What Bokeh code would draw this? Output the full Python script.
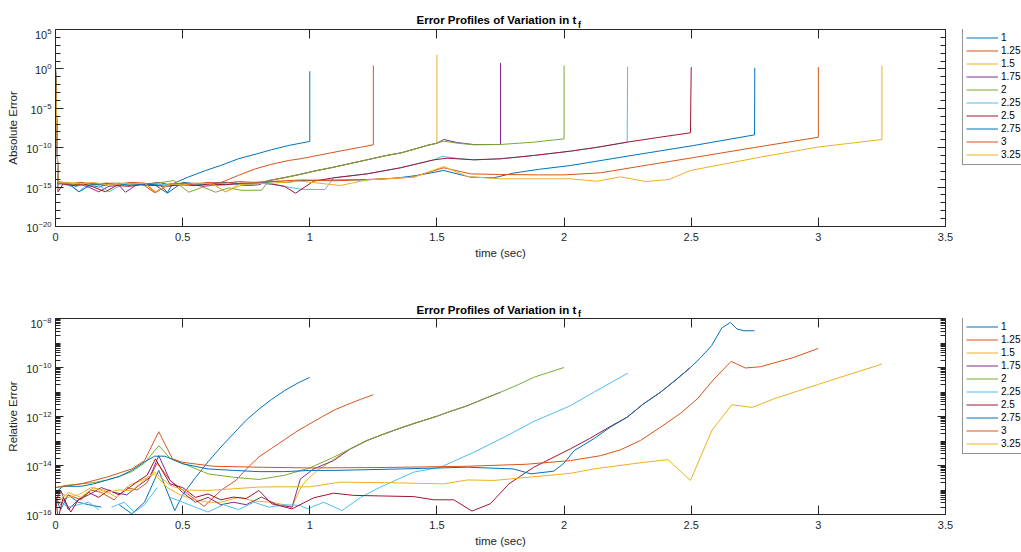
import numpy as np
from bokeh.plotting import figure
from bokeh.layouts import column, row
from bokeh.core.properties import value
from bokeh.models import (FixedTicker, LogAxis, LinearAxis, Range1d, Legend, LegendItem,
                          NumeralTickFormatter, CustomJSTickFormatter, LogTickFormatter)
from bokeh.embed import file_html
from bokeh.resources import INLINE

nan = float("nan")

# ---------------------------------------------------------------- labels / style
tf_labels = ["1", "1.25", "1.5", "1.75", "2", "2.25", "2.5", "2.75", "3", "3.25"]
line_colors = ["#0072BD", "#D95319", "#EDB120", "#7E2F8E", "#77AC30",
               "#4DBEEE", "#A2142F", "#0072BD", "#D95319", "#EDB120"]
title_text = "Error Profiles of Variation in t"
title_sub = "f"
x_label = "time (sec)"
abs_label = "Absolute Error"
rel_label = "Relative Error"

x_ticks = [0, 0.5, 1, 1.5, 2, 2.5, 3, 3.5]
abs_major = [1e-20, 1e-15, 1e-10, 1e-5, 1e0, 1e5]
abs_minor = [10.0 ** k for k in range(-20, 6) if k % 5 != 0]
rel_major = [1e-16, 1e-14, 1e-12, 1e-10, 1e-8]
rel_minor = [m * 10.0 ** k for k in range(-16, -8) for m in range(2, 10)] + \
            [1e-15, 1e-13, 1e-11, 1e-9]

# ---------------------------------------------------------------- absolute error (log10)
abs_t_1 = [0, 0.01, 0.04, 0.08, 0.12, 0.17, 0.22, 0.27, 0.32, 0.37, 0.41, 0.44,
           0.46, 0.52, 0.59, 0.65, 0.72, 0.79, 0.85, 0.92, 1.0, 1.0]
abs_e_1 = [0, -14.5, -14.4, -14.9, -14.6, -15.0, -14.5, -14.7, -14.6, -14.8, -14.6, -15.7,
           -14.6, -13.75, -12.9, -12.25, -11.4, -10.8, -10.25, -9.7, -9.2, -0.3]

abs_t_2 = [0, 0.01, 0.05, 0.09, 0.14, 0.19, 0.24, 0.29, 0.34, 0.39, 0.44, 0.49,
           0.55, 0.6, 0.655, 0.72, 0.786, 0.85, 0.917, 0.963, 1.02, 1.08, 1.14, 1.2,
           1.25, 1.25]
abs_e_2 = [0, -14.3, -14.5, -14.7, -14.5, -14.8, -14.6, -14.5, -14.6, -15.7, -14.7, -14.6,
           -14.5, -14.7, -14.37, -13.5, -12.68, -12.1, -11.62, -11.41, -11.05, -10.67, -10.3, -9.94,
           -9.63, 0.43]

# common growth shared by t_f = 1.5, 1.75, 2
abs_rise_t = [0.84, 0.9, 0.96, 1.02, 1.09, 1.16, 1.23, 1.3, 1.36, 1.42, 1.46, 1.5]
abs_rise_e = [-14.16, -13.8, -13.4, -12.95, -12.5, -12.0, -11.5, -11.0, -10.65, -10.1, -9.72, -9.43]

abs_t_3 = [0, 0.01, 0.05, 0.1, 0.15, 0.2, 0.26, 0.31, 0.36, 0.393, 0.45, 0.5,
           0.56, 0.62, 0.668, 0.72, 0.78] + abs_rise_t + [1.5]
abs_e_3 = [0, -14.6, -14.4, -14.6, -14.8, -14.5, -14.7, -14.5, -14.6, -15.64, -14.5, -14.6,
           -14.8, -14.6, -15.6, -14.9, -14.5] + abs_rise_e + [1.8]

abs_t_4 = [0, 0.01, 0.05, 0.09, 0.13, 0.17, 0.21, 0.25, 0.275, 0.32, 0.36, 0.406,
           0.46, 0.52, 0.58, 0.64, 0.7, 0.76, 0.8] + abs_rise_t + \
          [1.527, 1.58, 1.645, 1.75, 1.75]
abs_e_4 = [0, -14.5, -14.7, -14.6, -15.0, -15.6, -14.9, -14.8, -15.65, -14.7, -14.6, -14.4,
           -14.8, -14.6, -14.9, -14.7, -14.6, -14.8, -14.7] + abs_rise_e + \
          [-8.96, -9.35, -9.6, -9.59, 0.77]

abs_t_5 = [0, 0.01, 0.05, 0.1, 0.15, 0.2, 0.25, 0.3, 0.35, 0.4, 0.465, 0.524,
           0.58, 0.63, 0.68, 0.73, 0.81] + abs_rise_t + \
          [1.527, 1.58, 1.645, 1.75, 1.88, 2.0, 2.0]
abs_e_5 = [0, -14.4, -14.6, -14.8, -14.6, -14.7, -14.5, -14.6, -14.7, -14.5, -14.16, -15.65,
           -15.0, -15.65, -15.1, -15.4, -15.4] + abs_rise_e + \
          [-9.17, -9.43, -9.63, -9.59, -9.3, -8.88, 0.43]

# common growth shared by t_f = 2.25, 2.5
abs_b1_t = [1.094, 1.225, 1.357, 1.488]
abs_b1_e = [-13.82, -13.32, -12.55, -11.54]
abs_b2_t = [1.645, 1.75, 1.88, 2.025, 2.13, 2.248]
abs_b2_e = [-11.54, -11.41, -10.99, -10.44, -9.95, -9.3]

abs_t_6 = [0, 0.01, 0.04, 0.07, 0.092, 0.12, 0.16, 0.21, 0.26, 0.31, 0.36, 0.41,
           0.46, 0.52, 0.58, 0.64, 0.7, 0.76, 0.82, 0.88, 0.97, 1.06] + abs_b1_t + \
          [1.52, 1.58] + abs_b2_t + [2.25]
abs_e_6 = [0, -14.5, -14.7, -15.0, -15.6, -14.8, -14.6, -15.6, -14.7, -14.6, -14.8, -14.7,
           -14.6, -14.5, -14.7, -14.8, -14.6, -14.7, -14.5, -14.8, -15.3, -15.3] + abs_b1_e + \
          [-11.1, -11.35] + abs_b2_e + [0.3]

abs_t_7 = [0, 0.01, 0.03, 0.07, 0.11, 0.15, 0.196, 0.24, 0.29, 0.34, 0.39, 0.44,
           0.49, 0.55, 0.61, 0.67, 0.73, 0.79, 0.85, 0.9, 0.944, 1.015] + abs_b1_t + \
          [1.54] + abs_b2_t + [2.37, 2.497, 2.5]
abs_e_7 = [0, -15.6, -14.6, -14.8, -14.6, -15.0, -15.6, -14.8, -14.9, -14.7, -14.8, -14.9,
           -14.7, -14.8, -14.6, -14.7, -14.5, -14.5, -14.6, -14.9, -15.77, -14.25] + abs_b1_e + \
          [-11.33] + abs_b2_e + [-8.7, -8.11, 0.22]

abs_t_8 = [0, 0.01, 0.05, 0.092, 0.14, 0.19, 0.24, 0.29, 0.34, 0.39, 0.44, 0.5,
           0.56, 0.62, 0.68, 0.74, 0.8, 0.86, 0.91, 0.963, 1.1, 1.225, 1.33, 1.42,
           1.527, 1.632, 1.724, 1.8, 1.9, 2.025, 2.248, 2.51, 2.749, 2.75]
abs_e_8 = [0, -14.6, -14.5, -15.6, -14.7, -14.6, -14.5, -14.8, -14.6, -14.7, -15.77, -14.4,
           -14.6, -14.5, -14.4, -14.6, -14.5, -14.3, -14.4, -14.16, -14.1, -14.08, -13.9, -13.53,
           -12.89, -13.74, -13.82, -13.23, -12.75, -12.26, -11.08, -9.72, -8.37, 0.14]

abs_t_9 = [0, 0.01, 0.05, 0.1, 0.15, 0.2, 0.25, 0.3, 0.35, 0.393, 0.45, 0.5,
           0.55, 0.6, 0.66, 0.72, 0.78, 0.84, 0.9, 0.963, 1.1, 1.25, 1.4, 1.527,
           1.632, 1.75, 1.9, 2.0, 2.143, 2.3, 2.51, 2.75, 3.0, 3.0]
abs_e_9 = [0, -14.5, -14.6, -14.4, -14.6, -14.5, -14.6, -14.4, -14.5, -15.7, -14.6, -14.5,
           -14.6, -14.4, -14.5, -14.3, -14.4, -14.3, -14.2, -14.1, -14.2, -14.0, -13.75, -12.55,
           -13.32, -13.4, -13.45, -13.45, -13.19, -12.35, -11.25, -9.97, -8.67, 0.22]

abs_t_10 = [0, 0.01, 0.05, 0.1, 0.15, 0.2, 0.25, 0.3, 0.35, 0.393, 0.45, 0.5,
            0.56, 0.62, 0.668, 0.72, 0.78, 0.84, 0.9, 0.963, 1.12, 1.225, 1.41, 1.527,
            1.62, 1.75, 2.025, 2.13, 2.222, 2.32, 2.412, 2.497, 2.772, 2.996, 3.25, 3.25]
abs_e_10 = [0, -14.4, -14.5, -14.6, -14.4, -14.7, -14.5, -14.6, -14.5, -15.6, -14.6, -14.7,
            -14.5, -14.6, -15.6, -14.7, -14.6, -14.5, -14.4, -14.25, -14.8, -14.08, -13.74, -12.39,
            -13.66, -13.95, -13.95, -14.25, -13.7, -14.29, -14.04, -12.89, -11.2, -9.93, -8.96, 0.39]

# ---------------------------------------------------------------- relative error (log10)
rel_t_1 = [0, 0.02, 0.05, 0.09, 0.13, 0.18, 0.2, 0.25, 0.3, 0.35, 0.406, 0.469,
           0.5, 0.55, 0.6, 0.65, 0.7, 0.75, 0.8, 0.85, 0.9, 0.95, 1.0]
rel_e_1 = [-15.3, -15.8, -15.2, -15.5, -15.6, -15.7, nan, -15.6, -15.97, -15.5, -14.2, -15.84,
           -15.2, -14.5, -13.85, -13.25, -12.7, -12.15, -11.7, -11.3, -10.95, -10.65, -10.4]

rel_t_2 = [0, 0.02, 0.05, 0.1, 0.14, 0.18, 0.23, 0.28, 0.32, 0.36, 0.4, 0.45,
           0.5, 0.584, 0.65, 0.71, 0.75, 0.8, 0.85, 0.9, 0.95, 1.0, 1.05, 1.1,
           1.15, 1.2, 1.25]
rel_e_2 = [-15.3, -15.6, -15.2, -15.4, -15.0, -15.1, -15.4, -14.9, -15.0, -14.7, -13.9, -14.6,
           -15.0, -15.67, -15.02, -14.6, -14.15, -13.65, -13.3, -12.95, -12.6, -12.3, -12.0, -11.72,
           -11.5, -11.3, -11.11]

# common growth shared by t_f = 1.5, 1.75, 2
rel_g_t = [1.0, 1.094, 1.16, 1.225, 1.29, 1.357, 1.42, 1.488, 1.5, 1.55, 1.62, 1.68,
           1.75, 1.82, 1.881, 1.94, 2.0]
rel_g_e = [-14.1, -13.66, -13.32, -12.98, -12.72, -12.47, -12.25, -12.03, -11.99, -11.8, -11.56, -11.3,
           -11.01, -10.7, -10.40, -10.2, -10.0]

rel_t_3 = [0, 0.02, 0.05, 0.09, 0.14, 0.19, 0.24, 0.29, 0.34, 0.39, 0.44, 0.49,
           0.55, 0.6, 0.65, 0.72, 0.78, 0.85, 0.9, 0.93, 0.96, 0.98, 1.03, 1.08, 1.13]
rel_e_3 = [-15.4, -15.1, -15.3, -15.2, -14.9, -15.0, -15.3, -14.8, -14.6, -14.35, -14.9, -15.2,
           -15.4, -15.5, -15.5, -15.3, -15.45, -15.5, -15.6, -15.7, -15.0, -14.68, -14.2, -13.85, -13.5]

rel_t_4 = [0, 0.02, 0.05, 0.09, 0.13, 0.18, 0.23, 0.28, 0.33, 0.37, 0.406, 0.45,
           0.5, 0.55, 0.6, 0.65, 0.7, 0.75, 0.81, 0.87, 0.93, 0.963, 1.015, 1.094]
rel_e_4 = [-15.5, -15.0, -15.8, -15.4, -15.2, -14.9, -15.1, -15.2, -14.8, -14.5, -13.6, -14.6,
           -15.1, -15.5, -15.3, -15.6, -15.5, -15.6, -15.29, -15.6, -15.7, -14.55, -14.14, -13.8]

rel_t_5 = [0, 0.05, 0.1, 0.15, 0.2, 0.25, 0.3, 0.35, 0.406, 0.45, 0.5, 0.6, 0.7, 0.8, 0.9]
rel_e_5 = [-14.9, -14.8, -14.75, -14.7, -14.6, -14.45, -14.25, -13.9, -13.19, -13.7, -13.91,
           -14.34, -14.48, -14.57, -14.4]

rel_t_6 = [0, 0.02, 0.05, 0.09, 0.13, 0.17, 0.19, 0.22, 0.27, 0.31, 0.35, 0.4,
           0.42, 0.45, 0.5, 0.55, 0.6, 0.66, 0.72, 0.78, 0.84, 0.9, 0.963, 0.99,
           1.055, 1.127, 1.2, 1.278, 1.409, 1.514, 1.645, 1.776, 1.881, 2.025, 2.117, 2.251]
rel_e_6 = [-15.6, -15.5, -15.7, -15.6, -15.5, -15.8, nan, -15.7, -15.5, -15.9, -15.6, -14.9,
           nan, -15.3, -15.5, -15.7, -15.9, -15.6, -15.8, -15.5, -15.7, -15.6, -15.63, -15.77,
           -15.5, -15.84, -15.3, -14.88, -14.27, -14.07, -13.46, -12.78, -12.2, -11.56, -11.01, -10.23]

# common growth shared by t_f = 2.5, 2.75
rel_r_t = [2.248, 2.31, 2.379, 2.44, 2.497]
rel_r_e = [-12.03, -11.5, -11.01, -10.5, -10.0]

rel_t_7 = [0, 0.01, 0.03, 0.06, 0.09, 0.13, 0.17, 0.21, 0.25, 0.29, 0.33, 0.36,
           0.393, 0.45, 0.5, 0.55, 0.6, 0.65, 0.7, 0.75, 0.8, 0.85, 0.93, 1.015,
           1.094, 1.173, 1.409, 1.488, 1.566, 1.638, 1.71, 1.783, 1.881, 2.025, 2.1, 2.2] + rel_r_t
rel_e_7 = [-15.2, -16.2, -15.3, -15.9, -15.4, -15.1, -15.3, -15.0, -15.2, -14.9, -14.6, -14.4,
           -13.73, -14.75, -14.9, -15.3, -15.16, -15.4, -15.29, -15.35, -15.02, -15.56, -15.77, -15.32,
           -15.13, -15.22, -15.27, -15.40, -15.40, -15.86, -15.56, -14.75, -14.07, -13.32, -12.9, -12.3] + rel_r_e

rel_t_8 = [0, 0.03, 0.1, 0.15, 0.2, 0.25, 0.3, 0.35, 0.39, 0.43, 0.5, 0.6,
           0.7, 0.8, 0.9, 1.0, 1.1, 1.36, 1.62, 1.8, 1.87, 1.96, 2.0, 2.04,
           2.117, 2.18] + rel_r_t + [2.536, 2.58, 2.62, 2.654, 2.68, 2.707, 2.749]
rel_e_8 = [-15.1, -14.85, -14.85, -14.75, -14.6, -14.45, -14.2, -13.85, -13.62, -13.62, -13.93, -14.14,
           -14.2, -14.25, -14.25, -14.2, -14.2, -14.14, -14.07, -14.14, -14.34, -14.23, -13.9, -13.39,
           -12.91, -12.45] + rel_r_e + [-9.61, -9.11, -8.39, -8.16, -8.43, -8.5, -8.5]

rel_t_9 = [0, 0.1, 0.2, 0.3, 0.35, 0.406, 0.46, 0.5, 0.62, 0.8, 1.0, 1.3,
           1.62, 1.85, 2.025, 2.143, 2.222, 2.3, 2.379, 2.458, 2.524, 2.59, 2.657, 2.713,
           2.772, 2.903, 3.0]
rel_e_9 = [-14.9, -14.75, -14.48, -14.14, -13.8, -12.62, -13.73, -13.87, -14.03, -14.07, -14.1, -14.08,
           -14.03, -13.95, -13.8, -13.6, -13.36, -12.98, -12.44, -11.87, -11.28, -10.47, -9.75, -10.02,
           -9.97, -9.59, -9.22]

rel_t_10 = [0, 0.02, 0.05, 0.1, 0.15, 0.2, 0.25, 0.3, 0.35, 0.39, 0.45, 0.5,
            0.6, 0.7, 0.8, 0.9, 1.0, 1.12, 1.3, 1.527, 1.62, 1.724, 2.025, 2.117,
            2.314, 2.408, 2.497, 2.582, 2.66, 2.74, 2.825, 2.996, 3.25]
rel_e_10 = [-15.0, -15.4, -15.1, -15.3, -14.9, -15.1, -15.0, -15.02, -14.6, -14.27, -14.8, -15.0,
            -15.02, -14.95, -14.88, -14.87, -14.87, -14.68, -14.7, -14.75, -14.59, -14.61, -14.32, -14.14,
            -13.87, -13.76, -14.61, -12.55, -11.52, -11.63, -11.28, -10.70, -9.86]


def span(ts, es, lo, hi):
    """Points of a shared curve between lo and hi (inclusive)."""
    pts = [(t, e) for t, e in zip(ts, es) if lo <= t <= hi]
    return [q[0] for q in pts], [q[1] for q in pts]


g3_t, g3_e = span(rel_g_t, rel_g_e, 1.15, 1.5)
g4_t, g4_e = span(rel_g_t, rel_g_e, 1.15, 1.75)

abs_series = [
    (abs_t_1, abs_e_1), (abs_t_2, abs_e_2), (abs_t_3, abs_e_3), (abs_t_4, abs_e_4),
    (abs_t_5, abs_e_5), (abs_t_6, abs_e_6), (abs_t_7, abs_e_7), (abs_t_8, abs_e_8),
    (abs_t_9, abs_e_9), (abs_t_10, abs_e_10),
]
rel_series = [
    (rel_t_1, rel_e_1), (rel_t_2, rel_e_2),
    (rel_t_3 + g3_t, rel_e_3 + g3_e), (rel_t_4 + g4_t, rel_e_4 + g4_e),
    (rel_t_5 + rel_g_t, rel_e_5 + rel_g_e), (rel_t_6, rel_e_6), (rel_t_7, rel_e_7),
    (rel_t_8, rel_e_8), (rel_t_9, rel_e_9), (rel_t_10, rel_e_10),
]

AX = "#262626"
FONT = "Liberation Sans"
PLOT_W = 962           # axes panel width (frame spans 55..945)
LEG_W = 1021 - PLOT_W  # legend strip on the right
BORDER_L, BORDER_R = 55, 17


def bare(fig):
    fig.background_fill_color = "white"
    fig.border_fill_color = "white"
    for g in fig.grid:
        g.visible = False
    return fig


def title_strip(height, base_y, sub_y):
    """A thin canvas above each panel carrying the title with its subscript."""
    t = figure(width=PLOT_W, height=height,
               x_range=Range1d(BORDER_L, PLOT_W - BORDER_R), y_range=Range1d(height, 0),
               x_axis_location=None, y_axis_location=None, toolbar_location=None,
               output_backend="svg", min_border_left=BORDER_L, min_border_right=BORDER_R,
               min_border_top=0, min_border_bottom=0, outline_line_color=None)
    bare(t)
    t.text(x=[416], y=[base_y], text=[title_text], text_font=value(FONT),
           text_font_style="bold", text_font_size="11.5px", text_color="black",
           text_align="left", text_baseline="alphabetic")
    t.text(x=[577.5], y=[sub_y], text=[title_sub], text_font=value(FONT),
           text_font_style="bold", text_font_size="9px", text_color="black",
           text_align="left", text_baseline="alphabetic")
    return t


def legend_strip(height, border_top, border_bottom):
    """Legend box to the right of a panel, keyed with the series colours."""
    lf = figure(width=LEG_W, height=height, x_range=Range1d(0, 1), y_range=Range1d(0, 1),
                x_axis_location=None, y_axis_location=None, toolbar_location=None,
                output_backend="svg", min_border_left=0, min_border_right=0,
                min_border_top=border_top, min_border_bottom=border_bottom,
                outline_line_color=None)
    bare(lf)
    keys = [lf.line(x=[nan], y=[nan], line_color=col, line_width=1) for col in line_colors]
    fh = height - border_top - border_bottom
    leg_h = 3 * 2 + 13 * len(tf_labels)
    leg = Legend(items=[LegendItem(label=lab, renderers=[r]) for lab, r in zip(tf_labels, keys)],
                 location=(0, fh - leg_h))
    leg.margin = 0
    leg.padding = 3
    leg.spacing = 0
    leg.glyph_width = 32
    leg.glyph_height = 13
    leg.label_height = 13
    leg.label_standoff = 3
    leg.label_text_font = FONT
    leg.label_text_font_size = "10px"
    leg.label_text_color = "black"
    leg.border_line_color = AX
    leg.border_line_width = 1
    leg.background_fill_color = "white"
    leg.background_fill_alpha = 1.0
    lf.add_layout(leg, "center")
    return lf


def make_panel(series, y_lo, y_hi, majors, minors, ylabel, height, border_top, border_bottom):
    p = figure(width=PLOT_W, height=height, x_range=Range1d(0, 3.5), y_range=Range1d(y_lo, y_hi),
               y_axis_type="log", output_backend="svg", toolbar_location=None,
               min_border_left=BORDER_L, min_border_right=BORDER_R,
               min_border_top=border_top, min_border_bottom=border_bottom)
    bare(p)
    p.outline_line_color = AX
    p.outline_line_width = 1

    xax = p.below[0]
    yax = p.left[0]

    for (t, e), col in zip(series, line_colors):
        y = 10.0 ** np.asarray(e, dtype=float)
        p.line(np.asarray(t, dtype=float), y, line_color=col, line_width=1)

    x_ticker = FixedTicker(ticks=x_ticks)
    y_ticker = FixedTicker(ticks=majors, minor_ticks=minors)

    xax.ticker = x_ticker
    xax.formatter = NumeralTickFormatter(format="0.[0]")
    yax.ticker = y_ticker
    yax.formatter = LogTickFormatter()
    xax.axis_label = x_label
    yax.axis_label = ylabel

    blank = CustomJSTickFormatter(code="return ''")
    top = LinearAxis(ticker=x_ticker, formatter=blank)
    right = LogAxis(ticker=y_ticker, formatter=blank)
    p.add_layout(top, "above")
    p.add_layout(right, "right")

    for ax in [xax, yax, top, right]:
        ax.axis_line_color = AX
        ax.major_tick_line_color = AX
        ax.minor_tick_line_color = AX
        ax.major_tick_out = 0
        ax.minor_tick_out = 0
        ax.minor_tick_in = 5
        ax.major_label_text_font = FONT
        ax.major_label_text_font_size = "11px"
        ax.major_label_text_color = AX
        ax.axis_label_text_font = FONT
        ax.axis_label_text_font_size = "11.5px"
        ax.axis_label_text_font_style = "normal"
        ax.axis_label_text_color = AX
    for ax in [top, right]:
        ax.major_label_standoff = 0
        ax.major_label_text_font_size = "1px"
    xax.major_tick_in = 9
    top.major_tick_in = 9
    yax.major_tick_in = 8
    right.major_tick_in = 8
    xax.major_label_standoff = 6
    xax.axis_label_standoff = 3
    yax.major_label_standoff = 4
    yax.axis_label_standoff = 4
    return p


t_abs = title_strip(28, 19, 24)
p_abs = make_panel(abs_series, 1e-20, 1e5, abs_major, abs_minor, abs_label, 248, 1, 50)
l_abs = legend_strip(248, 1, 50)
t_rel = title_strip(41, 33, 37)
p_rel = make_panel(rel_series, 1e-16, 1e-8, rel_major, rel_minor, rel_label, 235, 1, 38)
l_rel = legend_strip(235, 1, 38)

layout = column(t_abs, row(p_abs, l_abs, spacing=0), t_rel, row(p_rel, l_rel, spacing=0), spacing=0)
open("out.html", "w").write(file_html(layout, INLINE))
